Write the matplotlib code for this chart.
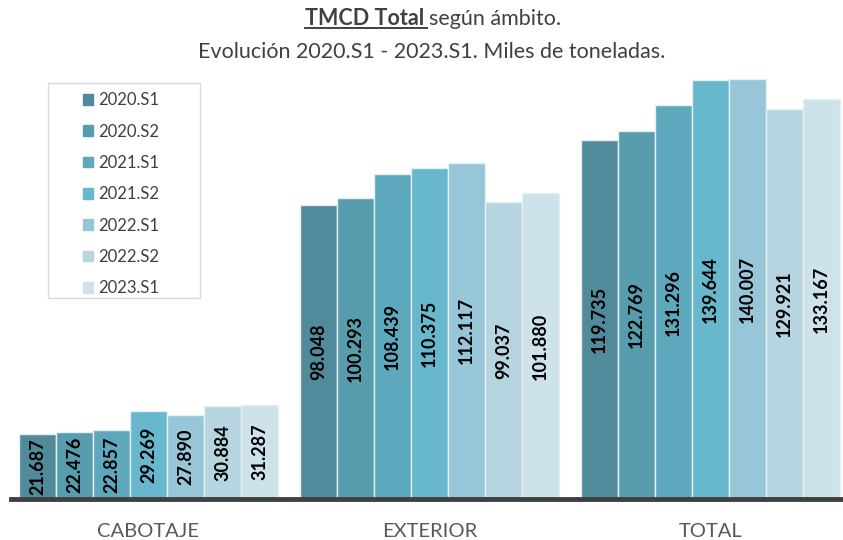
import matplotlib
matplotlib.use("Agg")
import matplotlib.pyplot as plt
from matplotlib.patches import Rectangle
from matplotlib.lines import Line2D
import numpy as np

categories = ["CABOTAJE", "EXTERIOR", "TOTAL"]
series = ["2020.S1", "2020.S2", "2021.S1", "2021.S2", "2022.S1", "2022.S2", "2023.S1"]
values = {
    "2020.S1": [21.687, 98.048, 119.735],
    "2020.S2": [22.476, 100.293, 122.769],
    "2021.S1": [22.857, 108.439, 131.296],
    "2021.S2": [29.269, 110.375, 139.644],
    "2022.S1": [27.890, 112.117, 140.007],
    "2022.S2": [30.884, 99.037, 129.921],
    "2023.S1": [31.287, 101.880, 133.167],
}
labels = {
    "2020.S1": ["21.687", "98.048", "119.735"],
    "2020.S2": ["22.476", "100.293", "122.769"],
    "2021.S1": ["22.857", "108.439", "131.296"],
    "2021.S2": ["29.269", "110.375", "139.644"],
    "2022.S1": ["27.890", "112.117", "140.007"],
    "2022.S2": ["30.884", "99.037", "129.921"],
    "2023.S1": ["31.287", "101.880", "133.167"],
}
colors = ["#518b9b", "#589dae", "#5ea8bd", "#67b7cd", "#96c6d7", "#b7d5e0", "#cde2ea"]

FONT = ["Lato", "DejaVu Sans"]
plt.rcParams['font.family'] = FONT

W, H = 843, 540
fig = plt.figure(figsize=(W/100, H/100), dpi=100)
ax = fig.add_axes([8/W, 41/H, 843/W, 450/H])

bw = 37/281
x = np.arange(len(categories))
for i, s in enumerate(series):
    xs = x + (i - 3) * bw
    ax.bar(xs, values[s], width=bw, color=colors[i], edgecolor="#e6f0f3",
           linewidth=1.0, label=s, zorder=2)
    for xi, v, lab in zip(xs, values[s], labels[s]):
        ax.text(xi, v / 2, lab, rotation=90, ha="center", va="center",
                fontsize=13, fontweight="bold", color="black", zorder=3)

ax.set_xlim(-0.5, 2.5)
ax.set_ylim(0, 150)
ax.axhline(0, xmin=0.003, color="#404040", lw=3.5, zorder=4, clip_on=False)
for sp in ax.spines.values():
    sp.set_visible(False)
ax.set_yticks([])
ax.set_xticks(x)
ax.set_xticklabels(categories, fontsize=14.5, color="#595959")
ax.tick_params(axis="x", length=0, pad=17)

# Legend with manual frame
fig.patches.append(Rectangle((48/W, 1 - 298/H), 152/W, 215/H, transform=fig.transFigure,
                             facecolor="white", edgecolor="#d9d9d9", lw=1, zorder=0))
handles = [Rectangle((0, 0), 1, 1, color=c) for c in colors]
leg = fig.legend(handles, series, loc="upper left", bbox_to_anchor=(75/W, 1 - 84/H),
                 bbox_transform=fig.transFigure, frameon=False, fontsize=12,
                 handlelength=0.6, handleheight=0.6, handletextpad=0.3,
                 labelspacing=0.92, borderpad=0)
for t in leg.get_texts():
    t.set_color("#404040")

# Title
renderer = fig.canvas.get_renderer()
TS = 15.5
t1 = fig.text(0, 0, "TMCD Total ", fontsize=TS, fontweight="bold", color="#404040")
t2 = fig.text(0, 0, "según ámbito.", fontsize=TS, color="#404040")
w1 = t1.get_window_extent(renderer).width
w2 = t2.get_window_extent(renderer).width
cx = 433
y1 = 1 - 25/H
x0 = cx - (w1 + w2) / 2
t1.set_position((x0 / W, y1))
t2.set_position(((x0 + w1) / W, y1))
t1.set_va("baseline"); t2.set_va("baseline")
uy = y1 - 3/H
fig.add_artist(Line2D([x0 / W, (x0 + w1 - 2) / W], [uy, uy], transform=fig.transFigure,
                      color="#404040", lw=1.4))
fig.text(432/W, 1 - 58/H, "Evolución 2020.S1 - 2023.S1. Miles de toneladas.",
         fontsize=TS, color="#404040", ha="center", va="baseline")

fig.savefig("out.png", dpi=100)
